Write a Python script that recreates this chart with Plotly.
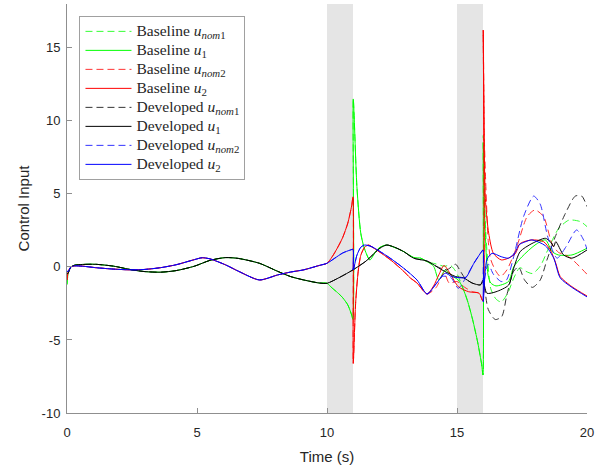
import plotly.graph_objects as go

# ---- shared segment 0..10 s (all u1 series coincide, all u2 series coincide)
t_u1_common = [0, 0.05, 0.15, 0.3, 0.6, 1.1, 1.8, 2.5, 3.0, 3.6, 4.2, 4.9, 5.5, 6.1, 6.6, 7.4, 8.1, 8.6, 9.1, 9.7, 10.0]
u1_common = [-1.2, -0.4, 0.0, 0.12, 0.17, 0.18, 0.05, -0.2, -0.32, -0.36, -0.25, 0.05, 0.45, 0.64, 0.58, 0.25, -0.3, -0.66, -0.89, -1.1, -1.12]
t_u2_common = [0, 0.05, 0.15, 0.3, 0.6, 1.1, 1.8, 2.5, 3.0, 3.6, 4.2, 4.9, 5.2, 5.5, 6.1, 6.6, 7.4, 8.1, 8.6, 9.1, 9.7, 10.0]
u2_common = [-0.9, -0.3, 0.0, 0.07, 0.05, -0.05, -0.15, -0.2, -0.17, -0.05, 0.15, 0.5, 0.63, 0.55, 0.14, -0.3, -0.89, -0.55, -0.35, -0.2, 0.1, 0.25]
# initial values of the developed controller (differ from baseline at t = 0)
dev_u1_start = -0.5
dev_u2_start = -0.3

# ---- Baseline u1 (after 10 s)
t_base_u1 = [10.2, 10.4, 10.6, 10.8, 10.95, 11.0, 11.01, 11.15, 11.3, 11.45, 11.65, 11.85, 12.0, 12.3, 12.95, 13.33, 13.6, 13.85, 14.1, 14.3, 14.55, 14.8, 15.05, 15.2, 15.4, 15.6, 15.8, 15.95, 16.0, 16.01, 16.06, 16.12, 16.2, 16.3, 16.5, 16.98, 17.18, 17.5, 18.0, 18.4, 18.66, 18.9, 19.42, 20.0]
base_u1 = [-1.45, -1.75, -2.1, -2.6, -3.3, -3.6, 11.5, 5.5, 2.3, 1.2, 0.48, 1.0, 1.3, 1.5, 1.05, 0.65, 0.6, 0.36, 0.05, -0.9, -0.2, -0.6, -0.9, -1.35, -2.3, -3.6, -5.2, -6.7, -7.4, 8.5, 4.0, 1.0, -0.6, -1.1, -1.3, -1.0, 0.0, 0.7, 1.5, 1.85, 1.05, 0.82, 0.82, 1.28]

# ---- Baseline u_nom1 (after 10 s)
t_base_unom1 = [10.2, 10.4, 10.6, 10.8, 10.95, 11.0, 11.01, 11.15, 11.3, 11.45, 11.65, 11.85, 12.0, 12.3, 12.95, 13.33, 13.6, 13.85, 14.2, 14.5, 14.75, 14.95, 15.2, 15.4, 15.6, 15.8, 15.95, 16.0, 16.01, 16.05, 16.12, 16.2, 16.3, 16.5, 16.7, 16.95, 17.2, 17.42, 17.65, 17.9, 18.2, 18.55, 18.9, 19.3, 19.75, 20.0]
base_unom1 = [-1.45, -1.75, -2.1, -2.6, -3.3, -3.6, 11.5, 5.5, 2.3, 1.2, 0.48, 1.0, 1.3, 1.5, 1.05, 0.65, 0.6, 0.36, 0.2, 0.05, 0.1, -0.3, -1.3, -2.3, -3.6, -5.2, -6.7, -7.4, 9.0, 5.0, 2.0, 0.0, -1.5, -2.2, -2.4, -1.8, -0.7, -0.05, -0.3, -0.45, 0.05, 1.4, 2.6, 3.2, 3.1, 2.76]

# ---- Baseline u2 (after 10 s)
t_base_u2 = [10.2, 10.4, 10.6, 10.8, 10.95, 11.0, 11.01, 11.1, 11.2, 11.3, 11.45, 11.6, 11.7, 12.0, 12.43, 12.7, 12.95, 13.2, 13.46, 13.85, 14.1, 14.3, 14.5, 14.75, 15.05, 15.45, 15.85, 15.98, 16.0, 16.01, 16.05, 16.1, 16.22, 16.4, 16.7, 16.98, 17.24, 17.43, 17.88, 18.33, 18.59, 18.8, 18.97, 19.42, 20.0]
base_u2 = [0.7, 1.3, 2.0, 3.0, 4.2, 4.8, -6.6, -2.5, -0.3, 0.8, 1.35, 1.5, 1.4, 1.05, 0.5, 0.1, -0.3, -0.75, -1.1, -1.85, -1.3, -0.55, 0.1, -0.5, -1.35, -1.7, -1.8, -2.3, -2.3, 16.2, 7.8, 4.4, 2.3, 0.93, 0.48, 0.6, 0.9, 1.6, 1.85, 1.73, 1.16, 0.25, -0.66, -1.35, -1.99]

# ---- Baseline u_nom2 (after 10 s)
t_base_unom2 = [10.2, 10.4, 10.6, 10.8, 10.95, 11.0, 11.01, 11.1, 11.2, 11.3, 11.45, 11.6, 11.7, 12.0, 12.43, 12.7, 12.95, 13.2, 13.46, 13.85, 14.2, 14.5, 14.7, 15.0, 15.3, 15.6, 15.85, 15.98, 16.0, 16.01, 16.05, 16.1, 16.15, 16.2, 16.3, 16.5, 16.67, 16.92, 17.3, 17.7, 18.0, 18.33, 18.65, 18.9, 19.2, 19.5, 20.0]
base_unom2 = [0.7, 1.3, 2.0, 3.0, 4.2, 4.8, -6.6, -2.5, -0.3, 0.8, 1.35, 1.5, 1.4, 1.05, 0.5, 0.1, -0.3, -0.75, -1.1, -1.85, -1.4, -0.4, -1.1, -1.0, -1.4, -1.7, -1.8, -2.3, -2.3, 16.2, 9.0, 6.0, 3.7, 1.8, 0.5, -0.3, -0.66, -0.2, 1.39, 3.45, 3.9, 3.45, 1.6, 1.0, 0.8, 0.4, -0.5]

# ---- Developed u1 (after 10 s)
t_dev_u1 = [10.5, 11.0, 11.5, 11.8, 12.05, 12.3, 12.6, 12.95, 13.33, 13.85, 14.42, 14.95, 15.25, 15.58, 15.9, 16.0, 16.15, 16.5, 16.98, 17.18, 17.43, 17.88, 18.4, 18.59, 18.72, 18.8, 19.1, 19.42, 20.0]
dev_u1 = [-0.7, -0.2, 0.4, 0.9, 1.3, 1.5, 1.35, 1.05, 0.6, 0.4, -0.2, -0.66, -0.75, -1.1, -1.23, -0.9, -1.8, -1.7, -1.25, -0.09, 1.05, 1.6, 1.96, 1.73, 1.39, 1.73, 0.82, 0.6, 1.16]

# ---- Developed u_nom1 (after 10 s)
t_dev_unom1 = [10.5, 11.0, 11.5, 11.8, 12.05, 12.3, 12.6, 12.95, 13.33, 13.85, 14.2, 14.6, 14.95, 15.1, 15.3, 15.58, 15.9, 16.0, 16.2, 16.47, 16.72, 16.92, 17.18, 17.37, 17.6, 17.9, 18.2, 18.46, 18.78, 19.17, 19.55, 19.8, 20.0]
dev_unom1 = [-0.7, -0.2, 0.4, 0.9, 1.3, 1.5, 1.35, 1.05, 0.6, 0.4, 0.05, -0.2, 0.18, -0.2, -0.75, -1.1, -1.23, -1.0, -2.9, -3.6, -3.4, -1.9, -0.3, 0.0, -0.9, -1.4, -0.9, 0.48, 2.07, 3.67, 4.85, 4.85, 4.13]

# ---- Developed u2 (after 10 s)
t_dev_u2 = [10.3, 10.6, 10.9, 11.0, 11.01, 11.15, 11.3, 11.45, 11.7, 12.0, 12.43, 12.95, 13.46, 13.85, 14.2, 14.55, 14.8, 15.2, 15.35, 15.65, 15.9, 16.0, 16.01, 16.15, 16.35, 16.7, 16.98, 17.24, 17.37, 17.6, 17.88, 18.4, 18.72, 18.97, 19.42, 20.0]
dev_u2 = [0.6, 0.95, 1.16, 1.2, -0.2, 0.8, 1.35, 1.5, 1.4, 1.1, 0.6, -0.09, -0.89, -1.85, -1.15, -0.43, -0.66, -0.75, -0.7, 0.25, 0.93, 1.16, -2.4, 0.5, 0.93, 0.7, 0.6, 1.0, 1.5, 1.7, 1.85, 1.45, 0.6, -0.75, -1.4, -2.05]

# ---- Developed u_nom2 (after 10 s)
t_dev_unom2 = [10.3, 10.6, 10.9, 11.0, 11.01, 11.15, 11.3, 11.45, 11.7, 12.0, 12.43, 12.95, 13.46, 13.85, 14.2, 14.42, 14.75, 15.05, 15.25, 15.65, 15.9, 16.0, 16.01, 16.2, 16.4, 16.7, 16.9, 17.18, 17.56, 17.95, 18.2, 18.5, 18.85, 19.2, 19.6, 19.87, 20.0]
dev_unom2 = [0.6, 0.95, 1.16, 1.2, -0.2, 0.8, 1.35, 1.5, 1.4, 1.1, 0.6, -0.09, -0.89, -1.85, -1.15, -0.66, -0.7, -1.46, -1.0, 0.25, 0.93, 1.16, -1.2, 0.2, -0.5, -1.0, -0.9, 0.7, 3.45, 4.85, 4.3, 2.0, 0.6, 1.4, 2.53, 1.85, 1.2]

x_ticks = [0, 5, 10, 15, 20]
x_ticktext = ["0", "5", "10", "15", "20"]
y_ticks = [-10, -5, 0, 5, 10, 15]
y_ticktext = ["-10", "-5", "0", "5", "10", "15"]
shade_intervals = [(10, 11), (15, 16)]

def lbl(s):
    return '<span style="font-size:15.5px">' + s + '</span>'

dev_u1_common = [dev_u1_start] + u1_common[1:]
dev_u2_common = [dev_u2_start] + u2_common[1:]

series = [
    (lbl("Baseline <i>u</i><sub><i>nom</i>1</sub>"), t_u1_common + t_base_unom1, u1_common + base_unom1, "#00ff00", "dash"),
    (lbl("Baseline <i>u</i><sub>1</sub>"), t_u1_common + t_base_u1, u1_common + base_u1, "#00ff00", "solid"),
    (lbl("Baseline <i>u</i><sub><i>nom</i>2</sub>"), t_u2_common + t_base_unom2, u2_common + base_unom2, "#ff0000", "dash"),
    (lbl("Baseline <i>u</i><sub>2</sub>"), t_u2_common + t_base_u2, u2_common + base_u2, "#ff0000", "solid"),
    (lbl("Developed <i>u</i><sub><i>nom</i>1</sub>"), t_u1_common + t_dev_unom1, dev_u1_common + dev_unom1, "#000000", "dash"),
    (lbl("Developed <i>u</i><sub>1</sub>"), t_u1_common + t_dev_u1, dev_u1_common + dev_u1, "#000000", "solid"),
    (lbl("Developed <i>u</i><sub><i>nom</i>2</sub>"), t_u2_common + t_dev_unom2, dev_u2_common + dev_unom2, "#0000ff", "dash"),
    (lbl("Developed <i>u</i><sub>2</sub>"), t_u2_common + t_dev_u2, dev_u2_common + dev_u2, "#0000ff", "solid"),
]

fig = go.Figure()
for name, tx, yy, col, dash in series:
    fig.add_trace(go.Scatter(
        x=tx, y=yy, name=name, mode="lines",
        line=dict(color=col, width=1, dash="7px,4px" if dash == "dash" else "solid",
                  shape="spline", smoothing=0.7),
        opacity=0.8 if dash == "dash" else 1.0,
    ))

for a, b in shade_intervals:
    fig.add_shape(type="rect", xref="x", yref="y", x0=a, x1=b, y0=-10, y1=18,
                  fillcolor="#e5e5e5", line=dict(width=0), layer="below")

axis_common = dict(showgrid=False, zeroline=False, showline=True, linecolor="#8f8f8f",
                   linewidth=1, ticks="inside", ticklen=5, tickcolor="#8f8f8f",
                   automargin=False,
                   tickfont=dict(family="Liberation Sans, Arial", size=13, color="#262626"))

fig.update_layout(
    width=605, height=467,
    margin=dict(l=67, r=18, t=4, b=54),
    paper_bgcolor="white", plot_bgcolor="white",
    xaxis=dict(range=[0, 20], tickvals=x_ticks, ticktext=x_ticktext, ticklabelstandoff=7,
               title=dict(text="Time (s)", standoff=12,
                          font=dict(family="Liberation Sans, Arial", size=15, color="#262626")),
               **axis_common),
    yaxis=dict(range=[-10, 18], tickvals=y_ticks, ticktext=y_ticktext, ticklabelstandoff=3,
               title=dict(text="Control Input", standoff=8,
                          font=dict(family="Liberation Sans, Arial", size=15, color="#262626")),
               **axis_common),
    legend=dict(x=0.024, y=0.971, xanchor="left", yanchor="top", bgcolor="white",
                bordercolor="#a0a0a0", borderwidth=1,
                font=dict(family="Liberation Serif, Times New Roman", size=11.5, color="#262626"),
                tracegroupgap=0, itemwidth=46),
    showlegend=True,
)

fig.write_html("out.html", config={"displayModeBar": False},
               post_script="document.body.style.margin='0px';")
